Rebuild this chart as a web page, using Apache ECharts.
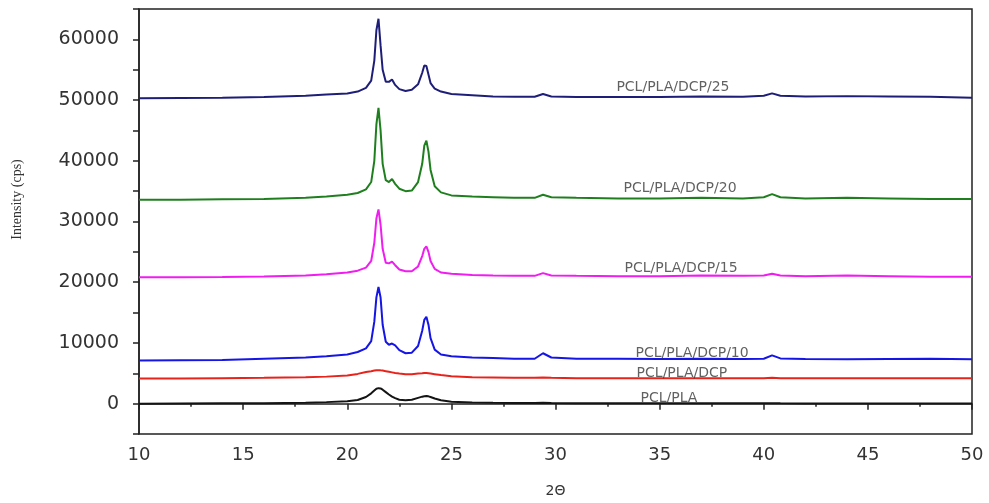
<!DOCTYPE html>
<html>
<head>
<meta charset="utf-8">
<script src="https://cdn.jsdelivr.net/npm/echarts@6/dist/echarts.min.js"></script>
<style>
  html, body { margin: 0; padding: 0; background: #fff; }
  #chart { width: 989px; height: 503px; }
</style>
</head>
<body>
<div id="chart"></div>
<script>
// 2Theta sample positions (denser around the two crystalline peaks)
const twoTheta = [10, 12, 14, 16, 18, 19, 20, 20.5, 20.9, 21.15, 21.3, 21.4, 21.5, 21.6, 21.7, 21.85,
  22.0, 22.15, 22.3, 22.5, 22.8, 23.1, 23.4, 23.6, 23.7, 23.8, 23.9, 24.0, 24.2, 24.5, 25, 26, 27, 28,
  29, 29.4, 29.8, 31, 33, 35, 37, 39, 40, 40.4, 40.8, 42, 44, 46, 48, 50];

const pclPla = [0, 20, 50, 80, 150, 250, 400, 600, 1100, 1700, 2150, 2450, 2550, 2500, 2300, 1900,
  1500, 1150, 900, 650, 550, 650, 950, 1150, 1230, 1250, 1200, 1100, 850, 550, 300, 200, 150, 120,
  100, 150, 100, 80, 70, 60, 60, 50, 50, 60, 50, 40, 40, 30, 30, 30];

const pclPlaDcp = [4150, 4150, 4200, 4250, 4350, 4450, 4650, 4900, 5200, 5350, 5450, 5500, 5500, 5480, 5450, 5350,
  5250, 5150, 5050, 4950, 4850, 4850, 4950, 5000, 5050, 5050, 5000, 4950, 4850, 4700, 4500, 4350, 4300, 4250,
  4250, 4300, 4250, 4200, 4200, 4200, 4200, 4200, 4200, 4250, 4200, 4200, 4200, 4200, 4200, 4200];

const dcp10 = [7100, 7150, 7200, 7400, 7600, 7800, 8100, 8500, 9100, 10300, 13500, 17500, 19200, 17500, 13000, 10200,
  9700, 9900, 9600, 8800, 8300, 8400, 9500, 12000, 13800, 14300, 13000, 10800, 8900, 8100, 7800, 7600, 7500, 7400,
  7400, 8300, 7600, 7400, 7400, 7350, 7400, 7350, 7400, 7950, 7450, 7350, 7300, 7350, 7400, 7300];

const dcp15 = [20800, 20800, 20850, 20950, 21100, 21300, 21600, 21900, 22400, 23500, 26500, 30500, 32000, 29500, 25500, 23200,
  23100, 23400, 22800, 22100, 21800, 21800, 22600, 24300, 25500, 25900, 25000, 23500, 22200, 21600, 21400, 21200, 21100, 21050,
  21050, 21500, 21100, 21050, 21000, 21000, 21100, 21050, 21100, 21400, 21100, 21000, 21100, 21000, 20900, 20900];

const dcp20 = [33600, 33600, 33650, 33700, 33900, 34100, 34400, 34700, 35300, 36500, 40000, 46000, 48700, 45000, 39500, 36800,
  36500, 37000, 36200, 35400, 35000, 35100, 36500, 39500, 42500, 43300, 41500, 38500, 35800, 34800, 34300, 34100, 34000, 33900,
  33900, 34400, 34000, 33900, 33800, 33800, 33900, 33800, 34000, 34500, 34000, 33800, 33900, 33800, 33700, 33700];

const dcp25 = [50300, 50350, 50400, 50500, 50700, 50900, 51100, 51400, 52000, 53200, 56500, 61500, 63400, 59000, 55000, 53000,
  53000, 53400, 52500, 51800, 51500, 51700, 52600, 54500, 55700, 55600, 54200, 52800, 51900, 51400, 51000, 50800, 50600, 50550,
  50550, 51000, 50600, 50500, 50500, 50500, 50600, 50550, 50700, 51100, 50700, 50600, 50650, 50600, 50550, 50400];

const seriesNames = ['PCL/PLA', 'PCL/PLA/DCP', 'PCL/PLA/DCP/10', 'PCL/PLA/DCP/15', 'PCL/PLA/DCP/20', 'PCL/PLA/DCP/25'];
const seriesValues = [pclPla, pclPlaDcp, dcp10, dcp15, dcp20, dcp25];
const seriesColors = ['#141414', '#e8231c', '#1515e6', '#f01cf0', '#1f7f1f', '#1e1e78'];

// where each curve's text label sits, in data units [2Theta, intensity]
const labelAt = [[35.45, 900], [36.07, 5000], [36.56, 8280], [36.03, 22210], [35.98, 35490], [35.64, 52050]];

const chart = echarts.init(document.getElementById('chart'));

const lines = seriesValues.map((vals, i) => ({
  name: seriesNames[i],
  type: 'line',
  showSymbol: false,
  smooth: false,
  lineStyle: { color: seriesColors[i], width: 2 },
  itemStyle: { color: seriesColors[i] },
  data: twoTheta.map((x, j) => [x, vals[j]]),
  z: 3
}));

const labels = {
  type: 'scatter',
  symbolSize: 0,
  silent: true,
  z: 4,
  data: labelAt.map((p, i) => ({ value: p, name: seriesNames[i] })),
  label: {
    show: true,
    position: 'inside',
    formatter: p => p.name,
    fontFamily: 'DejaVu Sans',
    fontSize: 14,
    color: '#3a3a3a'
  }
};

chart.setOption({
  animation: false,
  backgroundColor: '#fff',
  grid: { left: 139, right: 17, top: 9, bottom: 67, show: true, borderColor: '#222', borderWidth: 1.5 },
  xAxis: {
    type: 'value',
    min: 10,
    max: 50,
    interval: 5,
    name: '2Θ',
    nameLocation: 'middle',
    nameGap: 50,
    nameTextStyle: { fontFamily: 'DejaVu Sans', fontSize: 14, color: '#333' },
    axisLine: { show: true, lineStyle: { color: '#222', width: 1.5 } },
    axisTick: { show: true, inside: false, length: 6, lineStyle: { color: '#222', width: 1.5 } },
    minorTick: { show: true, splitNumber: 2, length: 3, lineStyle: { color: '#222', width: 1.5 } },
    axisLabel: { margin: 12, fontFamily: 'DejaVu Sans', fontSize: 18, color: '#333' },
    splitLine: { show: false }
  },
  yAxis: {
    type: 'value',
    min: -5000,
    max: 65000,
    interval: 5000,
    name: 'Intensity (cps)',
    nameLocation: 'middle',
    nameGap: 115,
    nameTextStyle: { fontFamily: 'Liberation Serif', fontSize: 14, color: '#333', padding: [0, 0, 0, 44] },
    axisLine: { show: true, lineStyle: { color: '#222', width: 1.5 } },
    axisTick: { show: true, inside: false, length: 6, lineStyle: { color: '#222', width: 1.5 } },
    axisLabel: {
      margin: 20,
      fontFamily: 'DejaVu Sans',
      fontSize: 19,
      color: '#333',
      formatter: v => (v % 10000 === 0 ? String(v) : '')
    },
    splitLine: { show: false }
  },
  series: [...lines, labels]
});
</script>
</body>
</html>
